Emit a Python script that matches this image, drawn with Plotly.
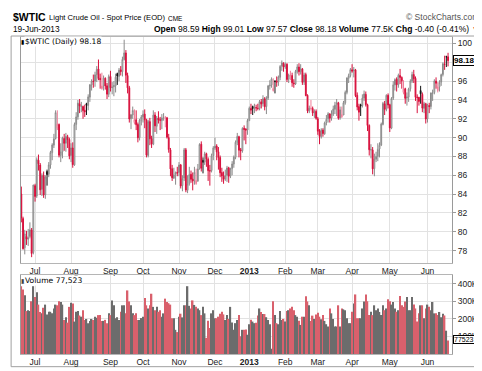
import plotly.graph_objects as go
import pandas as pd

# ---------------- data ----------------
holidays = ["2012-07-04", "2012-09-03", "2012-10-29", "2012-10-30", "2012-11-22",
            "2012-12-25", "2013-01-01", "2013-01-21", "2013-02-18", "2013-03-29", "2013-05-27"]
month_labels = ["Jul", "Aug", "Sep", "Oct", "Nov", "Dec", "<b>2013</b>", "Feb", "Mar", "Apr", "May", "Jun"]
price_ticks = [78, 80, 82, 84, 86, 88, 90, 92, 94, 96, 98, 100]
price_tick_labels = ["78", "80", "82", "84", "86", "88", "90", "92", "94", "96", "", "100"]
volume_ticks = [100, 200, 300, 400]
volume_tick_labels = ["100K", "200K", "300K", "400K"]

opens = [
    84.0, 81.4, 78.3, 79.5, 79.2, 79.5, 80.2, 77.8,
    84.9, 83.8, 87.6, 87.1, 84.5, 86.0, 83.9, 86.4, 86.1, 87.1, 88.4, 89.2, 89.9, 91.0, 91.4, 88.1, 88.5, 89.9, 89.4, 90.1, 89.8,
    88.1, 88.9, 87.1, 91.4, 92.2, 93.6, 93.3, 93.3, 92.9, 93.6, 93.4, 94.3, 95.6, 96.0, 96.0, 96.7, 97.3, 96.3, 95.2, 95.5, 96.3, 95.5, 94.6,
    96.5, 95.3, 95.4, 95.5, 96.8, 96.5, 97.2, 97.0, 98.3, 99.0, 96.6, 95.3, 92.0, 92.4, 91.6, 91.9, 91.4, 90.0, 91.8,
    92.2, 92.5, 91.9, 88.1, 91.7, 89.9, 89.3, 92.4, 91.2, 92.1, 91.9, 91.8, 92.1, 92.1, 92.1, 90.0, 88.7, 86.7, 85.7, 86.1, 86.3,
    86.3, 87.1, 84.9, 85.7, 88.7, 84.4, 85.1, 86.1, 85.6, 85.4, 85.1, 85.4, 86.7, 89.3, 87.6, 87.4, 88.3, 87.7, 86.5, 86.5, 88.1,
    88.9, 89.1, 88.5, 87.9, 86.3, 85.9, 85.6, 86.0, 86.8, 85.9, 86.7, 87.2, 87.9, 89.5, 90.1, 88.7, 88.6, 91.0, 90.9, 90.8,
    91.8, 93.1, 93.3, 93.1, 93.2, 93.1, 93.1, 93.8, 93.6, 94.1, 93.3, 94.2, 95.5, 95.6, 95.0, 96.0, 96.0, 95.9, 96.4, 97.6, 97.9,
    97.5, 97.8, 96.2, 96.6, 96.6, 95.8, 95.7, 97.0, 97.5, 97.0, 97.3, 95.9, 96.7, 94.5, 92.8, 93.1, 93.1, 92.6, 92.8,
    92.0, 90.7, 90.1, 90.8, 90.4, 91.6, 92.0, 92.5, 92.1, 92.5, 93.0, 93.5, 93.7, 92.1, 92.2, 92.4, 93.7, 94.8, 96.3, 96.6,
    97.2, 97.1, 97.2, 94.5, 93.3, 93.5, 93.4, 94.2, 94.6, 93.5, 91.3, 88.7, 88.7, 86.7, 87.7, 88.0, 88.8, 89.2, 91.4, 93.6, 93.0, 94.5,
    93.5, 91.0, 94.2, 95.6, 96.2, 95.6, 96.6, 96.4, 94.8, 95.2, 94.2, 94.3, 95.2, 96.0, 96.7, 96.3, 94.3, 94.3, 95.0, 94.6, 93.1, 93.6,
    92.0, 93.4, 93.3, 94.7, 94.8, 96.0, 95.0, 95.4, 95.9, 96.7, 97.8, 98.6, 98.59,
]
highs = [
    84.8, 81.6, 80.2, 80.1, 80.3, 81.0, 80.4, 85.0,
    85.1, 87.9, 88.2, 87.3, 86.2, 86.4, 86.0, 86.6, 87.4, 88.6, 89.4, 90.4, 92.9, 92.9, 91.5, 89.4, 90.1, 90.4, 90.5, 90.3, 90.0,
    89.4, 89.5, 91.6, 92.7, 94.0, 94.1, 93.8, 93.4, 93.5, 93.7, 94.6, 95.7, 96.2, 96.7, 97.0, 97.6, 98.3, 96.8, 96.9, 96.6, 96.4, 95.8, 96.7,
    97.1, 95.9, 96.0, 96.8, 96.9, 97.4, 97.6, 98.6, 100.4, 99.3, 96.9, 95.5, 92.5, 93.3, 93.0, 92.9, 91.6, 92.0, 92.4,
    92.9, 93.0, 92.0, 91.9, 92.1, 90.2, 92.9, 92.7, 92.3, 92.8, 92.2, 92.5, 92.6, 92.3, 92.2, 90.4, 88.9, 87.1, 86.8, 86.4, 86.9,
    87.4, 87.2, 86.0, 88.9, 88.9, 86.0, 86.9, 86.5, 86.3, 86.9, 86.7, 87.2, 89.4, 89.6, 87.9, 88.5, 88.4, 87.9, 87.1, 88.3, 89.1,
    90.0, 89.3, 89.0, 88.1, 86.8, 86.4, 86.6, 87.0, 86.9, 86.8, 87.5, 88.1, 89.7, 90.5, 90.2, 88.9, 91.1, 91.3, 91.0, 92.0,
    93.3, 93.6, 93.4, 93.6, 93.5, 93.6, 94.0, 94.1, 94.5, 94.3, 94.4, 95.6, 96.1, 96.4, 96.3, 96.1, 96.5, 96.6, 97.7, 98.2, 98.0,
    98.0, 97.9, 96.8, 97.1, 96.9, 96.2, 97.2, 97.8, 97.9, 97.8, 97.4, 96.9, 96.9, 94.6, 93.4, 94.0, 93.3, 93.0, 93.0,
    92.2, 90.9, 91.0, 91.0, 91.7, 92.4, 92.7, 92.6, 92.9, 93.4, 93.8, 94.1, 93.8, 93.3, 93.3, 93.9, 95.0, 96.4, 96.8, 97.4,
    97.8, 97.5, 97.3, 94.8, 93.6, 93.6, 94.6, 95.0, 94.9, 93.6, 91.4, 89.3, 89.0, 88.3, 88.5, 89.4, 89.5, 91.6, 93.8, 93.9, 94.6, 94.7,
    93.6, 94.3, 96.0, 96.3, 96.4, 96.8, 97.3, 96.5, 96.1, 95.3, 94.8, 95.3, 96.2, 97.0, 97.2, 96.5, 94.6, 94.3, 95.5, 94.8, 93.8, 93.7,
    93.6, 93.7, 94.8, 95.1, 96.2, 96.4, 95.9, 96.1, 96.8, 98.0, 98.7, 98.7, 99.01,
]
lows = [
    81.0, 78.1, 77.6, 78.6, 78.5, 79.3, 77.3, 77.6,
    83.2, 83.6, 86.5, 83.9, 83.8, 83.6, 83.5, 84.9, 85.8, 86.7, 87.6, 88.9, 89.8, 90.8, 87.9, 87.4, 87.8, 88.6, 88.5, 88.9, 87.7,
    87.4, 86.8, 87.0, 90.8, 91.9, 92.6, 92.7, 92.0, 92.2, 92.4, 92.9, 93.8, 95.0, 95.3, 95.4, 95.9, 96.1, 95.2, 95.1, 95.0, 95.1, 94.1, 94.3,
    94.9, 94.6, 94.4, 94.8, 95.6, 96.0, 96.6, 96.5, 98.2, 95.8, 94.7, 91.6, 90.9, 92.0, 91.4, 90.8, 89.5, 89.7, 91.3,
    91.6, 91.0, 87.9, 87.9, 89.2, 88.9, 89.2, 90.6, 90.4, 91.5, 90.8, 90.9, 91.8, 91.1, 89.9, 88.4, 85.9, 85.4, 85.6, 85.0, 85.9,
    85.9, 84.6, 84.3, 85.4, 84.2, 84.1, 84.9, 85.2, 84.4, 85.0, 85.0, 85.3, 86.6, 86.4, 86.2, 87.1, 86.9, 85.4, 84.9, 86.3, 87.6,
    88.7, 87.6, 86.6, 85.8, 85.3, 85.1, 85.4, 85.3, 85.2, 85.7, 86.0, 86.8, 87.7, 89.2, 87.9, 87.6, 88.4, 89.7, 89.3, 90.3,
    91.8, 92.5, 92.4, 92.6, 92.8, 92.9, 92.9, 93.1, 93.3, 92.9, 92.5, 94.0, 95.1, 95.3, 94.9, 94.7, 95.4, 95.5, 96.1, 97.1, 97.0,
    97.3, 95.9, 95.8, 96.1, 95.4, 95.3, 95.6, 96.8, 96.6, 96.7, 95.6, 95.6, 94.4, 92.6, 92.6, 92.9, 92.3, 92.1, 91.9,
    90.3, 89.3, 89.9, 90.1, 90.3, 91.3, 91.6, 91.6, 91.8, 92.3, 92.5, 92.3, 91.9, 91.9, 92.1, 92.4, 93.5, 94.6, 95.8, 96.4,
    96.9, 96.4, 94.3, 92.9, 91.8, 92.3, 93.2, 93.9, 93.3, 90.7, 88.1, 87.8, 86.1, 85.9, 87.4, 87.5, 87.9, 89.1, 91.3, 92.4, 92.8, 93.1,
    90.6, 90.9, 94.0, 95.0, 94.9, 95.3, 95.7, 95.2, 94.6, 93.6, 93.4, 93.8, 94.9, 95.8, 95.8, 93.9, 92.6, 93.4, 93.6, 92.7, 92.6, 91.5,
    91.6, 92.6, 93.0, 93.9, 94.6, 95.2, 94.8, 94.9, 95.5, 96.5, 97.2, 97.5, 97.57,
]
closes = [
    81.45, 78.20, 79.76, 79.21, 79.36, 80.21, 77.69, 84.96,
    83.75, 87.66, 87.22, 84.45, 85.99, 83.91, 85.81, 86.08, 87.10, 88.43, 89.22, 89.87, 92.66, 91.44, 88.14, 88.50, 89.97, 89.39, 90.13, 89.78, 88.06,
    88.91, 87.13, 91.40, 92.20, 93.67, 93.35, 93.36, 92.87, 92.73, 93.43, 94.33, 95.60, 96.01, 95.97, 96.68, 97.26, 96.27, 96.15, 95.47, 96.33, 95.49, 94.62, 96.47,
    95.30, 95.36, 95.53, 96.42, 96.54, 97.17, 97.01, 98.31, 99.00, 96.62, 95.29, 91.98, 92.42, 92.89, 91.93, 91.37, 89.98, 91.85, 92.19,
    92.48, 91.89, 88.14, 91.71, 89.88, 89.33, 92.39, 91.25, 92.07, 91.86, 91.85, 92.09, 92.12, 92.10, 90.05, 88.73, 86.67, 85.73, 86.05, 86.28, 86.24,
    87.09, 84.86, 85.65, 88.71, 84.44, 85.09, 86.07, 85.57, 85.38, 86.32, 85.45, 86.67, 89.28, 86.75, 87.38, 88.28, 87.74, 86.49, 86.45, 88.07, 88.91,
    89.09, 88.49, 87.88, 86.26, 85.93, 85.56, 85.99, 86.77, 85.89, 86.73, 87.20, 87.93, 89.51, 90.13, 88.66, 88.61, 90.98, 90.87, 90.80, 91.82,
    93.12, 92.92, 93.09, 93.19, 93.15, 93.10, 93.82, 93.56, 94.14, 93.28, 94.24, 95.49, 95.56, 96.24, 95.23, 95.95, 95.88, 96.44, 97.57, 97.94, 97.49,
    97.77, 96.17, 96.64, 96.62, 95.83, 95.72, 97.03, 97.51, 97.01, 97.31, 95.86, 96.66, 94.46, 92.84, 93.13, 93.11, 92.63, 92.76, 92.05,
    90.68, 90.12, 90.82, 90.43, 91.56, 91.95, 92.54, 92.06, 92.52, 93.03, 93.45, 93.73, 92.06, 92.96, 92.45, 93.71, 94.81, 96.34, 96.58, 97.23,
    97.07, 97.19, 94.45, 93.26, 92.70, 93.36, 94.20, 94.64, 93.50, 91.29, 88.71, 88.72, 86.68, 87.73, 88.01, 88.76, 89.18, 91.44, 93.64, 93.00, 94.50, 93.46,
    91.03, 94.16, 95.61, 96.16, 95.62, 96.62, 96.39, 96.04, 95.17, 94.17, 94.30, 95.16, 96.02, 96.71, 96.25, 94.28, 94.25, 93.84, 94.65, 93.13, 93.61, 91.97,
    93.45, 93.31, 94.74, 94.76, 96.03, 95.77, 95.38, 95.88, 96.69, 97.85, 97.77, 98.58, 98.18,
]
volumes_k = [
    387, 368, 335, 245, 250, 245, 301, 387,
    325, 353, 282, 240, 232, 264, 282, 226, 241, 241, 232, 260, 282, 278, 301, 297, 282, 194, 210, 179, 269,
    292, 288, 185, 241, 245, 220, 213, 250, 194, 200, 176, 189, 200, 194, 213, 207, 222, 222, 189, 189, 195, 176, 232,
    222, 306, 278, 204, 210, 194, 241, 278, 278, 232, 363, 300, 278, 232, 222, 232, 194, 194, 205,
    213, 320, 278, 260, 278, 344, 269, 250, 269, 241, 250, 213, 232, 316, 297, 290, 282, 204, 204, 138, 125,
    213, 230, 209, 278, 278, 387, 275, 260, 306, 280, 269, 260, 250, 222, 269, 232, 92, 190, 148, 232, 250,
    204, 204, 213, 230, 241, 226, 194, 222, 200, 269, 180, 138, 176, 194, 222, 101, 138, 138, 140, 110,
    170, 195, 185, 176, 179, 220, 260, 240, 228, 228, 210, 194, 170, 30, 301, 222, 176, 170, 245, 194, 200,
    185, 245, 250, 260, 269, 250, 222, 213, 190, 166, 213, 213, 329, 300, 278, 189, 219, 200, 226,
    236, 213, 198, 222, 189, 170, 157, 260, 232, 200, 157, 157, 278, 157, 260, 255, 250, 204, 176, 176,
    241, 288, 340, 204, 204, 204, 260, 300, 340, 301, 222, 241, 222, 278, 250, 260, 240, 222, 278, 250, 260, 312,
    301, 282, 297, 260, 241, 250, 331, 278, 269, 300, 325, 250, 250, 325, 282, 260, 185, 232, 278, 278, 204, 260,
    282, 269, 250, 297, 232, 232, 222, 240, 210, 230, 220, 133, 77.523,
]

# ---------------- derived ----------------
dates = [d for d in pd.bdate_range("2012-06-20", "2013-06-19") if d.strftime("%Y-%m-%d") not in holidays]
n = len(closes)
assert len(opens) == n and len(highs) == n and len(lows) == n and len(volumes_k) == n and len(dates) == n, \
    (len(opens), len(highs), len(lows), len(closes), len(volumes_k), len(dates))
idx = list(range(n))
tickvals = [i for i in range(1, n) if dates[i].month != dates[i - 1].month]

up = [i for i in idx if closes[i] >= (closes[i - 1] if i > 0 else opens[i])]
upset = set(up)
dn = [i for i in idx if i not in upset]

# pixel helpers (plot area: x 13..449, y 29..354)
L, R, T, B = 13, 449, 29, 354
W, H = 482, 371
def px(x):
    return (x - L) / (R - L)
def py(y):
    return (B - y) / (B - T)

RED = "#d8103c"
PINK = "#f07d98"
BLK = "#111111"
GRY = "#8a8a8a"

def candles(ids, inc_line, inc_fill, dec_line, dec_fill):
    return go.Candlestick(
        x=ids,
        open=[opens[i] for i in ids], high=[highs[i] for i in ids],
        low=[lows[i] for i in ids], close=[closes[i] for i in ids],
        increasing=dict(line=dict(color=inc_line, width=1), fillcolor=inc_fill),
        decreasing=dict(line=dict(color=dec_line, width=1), fillcolor=dec_fill),
        whiskerwidth=0, showlegend=False, hoverinfo="skip",
        xaxis="x", yaxis="y",
    )

fig = go.Figure()
fig.add_trace(candles(up, GRY, "#ffffff", BLK, BLK))
fig.add_trace(candles(dn, PINK, "#ffffff", RED, RED))
fig.add_trace(go.Bar(
    x=idx, y=volumes_k,
    marker=dict(color=["#6c6c6c" if i in upset else "#d9606c" for i in idx], line=dict(width=0)),
    xaxis="x2", yaxis="y2", showlegend=False, hoverinfo="skip",
))

xr = [-0.2, n - 1 + 2.3]
grid = "#e2e2e2"
axisfont = dict(family="Liberation Sans", size=8.5, color="#222")
common_x = dict(range=xr, tickmode="array", tickvals=tickvals, ticktext=month_labels,
                showgrid=True, gridcolor=grid, gridwidth=1, zeroline=False,
                showline=True, mirror=True, linecolor="#b5b5b5", linewidth=1,
                ticks="", tickfont=axisfont, fixedrange=True)

main_bottom = py(261)
vol_top = py(273)

fig.update_layout(
    width=W, height=H,
    margin=dict(l=L, r=W - R, t=T, b=H - B),
    paper_bgcolor="white", plot_bgcolor="white",
    bargap=0.15,
    showlegend=False,
    xaxis=dict(domain=[0, 1], anchor="y", rangeslider=dict(visible=False), **common_x),
    xaxis2=dict(domain=[0, 1], anchor="y2", matches="x", **common_x),
    yaxis=dict(domain=[main_bottom, 1], side="right", range=[76.65, 100.69],
               tickmode="array", tickvals=price_ticks, ticktext=price_tick_labels,
               showgrid=True, gridcolor=grid, zeroline=False,
               showline=True, mirror=True, linecolor="#9a9a9a",
               ticks="outside", ticklen=3, tickcolor="#9a9a9a", tickfont=axisfont),
    yaxis2=dict(domain=[0, vol_top], side="right", range=[0, 451],
                tickmode="array", tickvals=volume_ticks, ticktext=volume_tick_labels,
                showgrid=True, gridcolor=grid, zeroline=False,
                showline=True, mirror=True, linecolor="#9a9a9a",
                ticks="outside", ticklen=3, tickcolor="#9a9a9a", tickfont=axisfont),
)

sans = "Liberation Sans"
anns = []
def ann(x, y, text, size, anchor="left", color="#000", family=sans, bg=None, **kw):
    d = dict(x=px(x), y=py(y), xref="paper", yref="paper", text=text, showarrow=False,
             xanchor=anchor, yanchor="middle", font=dict(family=family, size=size, color=color))
    if bg:
        d["bgcolor"] = bg
    d.update(kw)
    anns.append(d)

last = n - 1
chg = closes[last] - closes[last - 1]
pct = chg / closes[last - 1] * 100

ann(3, 8.5, "<b>$WTIC</b>", 10.5)
ann(39, 9.5, "Light Crude Oil - Spot Price (EOD)", 7.6)
ann(160, 10, "CME", 6.5)
ann(478, 9, "© StockCharts.com", 8.5, anchor="right", color="#555")
ann(3, 21, dates[last].strftime("%d-%b-%Y"), 8.3)
hdr = ("<b>Open</b> %.2f <b>High</b> %.2f <b>Low</b> %.2f <b>Close</b> %.2f "
       "<b>Volume</b> %.1fK <b>Chg</b> %.2f (%.2f%%) <span style='color:#d00020'>▼</span>"
       % (opens[last], highs[last], lows[last], closes[last], volumes_k[last], chg, pct))
ann(479, 21, hdr, 8.5, anchor="right")
ann(16, 34, "$WTIC (Daily) %.2f" % closes[last], 7.6, family="DejaVu Sans", bg="white", borderpad=0)
ann(11, 34, "▮", 6, family="DejaVu Sans")
ann(16, 279, "Volume %s" % format(int(round(volumes_k[last] * 1000)), ","), 7.6, family="DejaVu Sans", bg="white", borderpad=0)
ann(11, 279, "▮", 6, family="DejaVu Sans", color="#444")

# last-value tags on the right axis
anns.append(dict(x=1.002, y=closes[last], xref="paper", yref="y", text="<b>%.2f</b>" % closes[last],
                 showarrow=False, xanchor="left", yanchor="middle", bgcolor="white",
                 bordercolor="#000", borderwidth=1, borderpad=0,
                 font=dict(family=sans, size=8, color="#000")))
anns.append(dict(x=1.002, y=volumes_k[last], xref="paper", yref="y2",
                 text="%d" % int(round(volumes_k[last] * 1000)),
                 showarrow=False, xanchor="left", yanchor="top", bgcolor="white",
                 bordercolor="#000", borderwidth=1, borderpad=0, yshift=5,
                 font=dict(family=sans, size=7, color="#000")))
fig.update_layout(annotations=anns)

# outer frame
fig.add_shape(type="rect", xref="paper", yref="paper", x0=px(3), x1=px(479), y0=py(367), y1=py(28),
              line=dict(color="#a0a0a0", width=1), fillcolor="rgba(0,0,0,0)", layer="below")

fig.write_html("out.html")
